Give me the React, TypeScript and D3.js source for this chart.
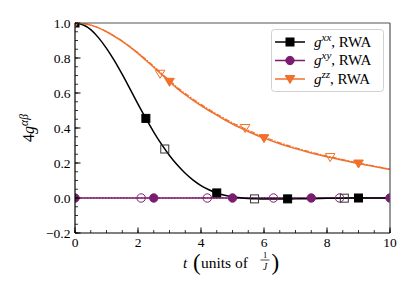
import React from "react";
import * as d3 from "d3";

// ---------- data ----------
const tGrid = [0, 0.25, 0.5, 0.75, 1, 1.25, 1.5, 1.75, 2, 2.25, 2.5, 2.75, 3, 3.25, 3.5, 3.75, 4, 4.25, 4.5, 4.75, 5, 5.25, 5.5, 5.75, 6, 6.5, 7, 7.5, 8, 8.5, 9, 9.5, 10];
const gxx = [1.0, 0.99, 0.962, 0.915, 0.855, 0.785, 0.706, 0.622, 0.537, 0.455, 0.377, 0.306, 0.243, 0.188, 0.141, 0.102, 0.071, 0.047, 0.029, 0.016, 0.007, 0.001, -0.003, -0.005, -0.006, -0.006, -0.005, -0.004, -0.002, -0.001, 0.0, 0.0, 0.0];
const gzz = [1.0, 0.997, 0.988, 0.972, 0.95, 0.924, 0.895, 0.862, 0.826, 0.787, 0.747, 0.706, 0.664, 0.625, 0.59, 0.558, 0.528, 0.5, 0.473, 0.447, 0.423, 0.401, 0.38, 0.36, 0.342, 0.31, 0.282, 0.257, 0.236, 0.216, 0.197, 0.18, 0.163];
const gzzExact = [1.0, 0.997, 0.988, 0.972, 0.951, 0.926, 0.897, 0.865, 0.83, 0.792, 0.752, 0.712, 0.671, 0.632, 0.597, 0.565, 0.535, 0.507, 0.48, 0.454, 0.43, 0.408, 0.387, 0.367, 0.349, 0.316, 0.287, 0.262, 0.24, 0.22, 0.2, 0.182, 0.165];
const gxy = [0, 0, 0, 0, 0, 0, 0, 0, 0, 0, 0, 0, 0, 0, 0, 0, 0, 0, 0, 0, 0, 0, 0, 0, 0, 0, 0, 0, 0, 0, 0, 0, 0];
const gxyExact = [0, 0, 0.001, 0.001, 0.001, 0.001, 0.001, 0, 0, 0, -0.001, -0.001, -0.001, 0, 0, 0.001, 0.001, 0, 0, 0, -0.001, -0.001, 0, 0, 0.001, 0, 0, -0.001, 0, 0.001, 0, 0, 0];

// filled markers (RWA)
const sqFilledT = [0, 2.25, 4.5, 6.75, 9.0];
const sqFilledY = [1.0, 0.455, 0.029, -0.005, 0.0];
const circFilledT = [0, 2.5, 5.0, 7.5, 10.0];
const circFilledY = [0, 0, 0, 0, 0];
const triFilledT = [0, 3.0, 6.0, 9.0];
const triFilledY = [1.0, 0.664, 0.342, 0.197];
// open markers
const sqOpenT = [2.85, 5.7, 8.55];
const sqOpenY = [0.28, -0.005, -0.001];
const circOpenT = [2.1, 4.2, 6.3, 8.4];
const circOpenY = [0, 0, 0, 0];
const triOpenT = [2.7, 5.4, 8.1];
const triOpenY = [0.71, 0.4, 0.234];

const xTicks = [0, 2, 4, 6, 8, 10];
const yTicks = [-0.2, 0, 0.2, 0.4, 0.6, 0.8, 1.0];
const xMinor = d3.range(0, 10.001, 0.5);
const yMinor = d3.range(-0.2, 1.0001, 0.05);

const legendLabels = ["xx", "xy", "zz"];

// ---------- style ----------
const BLACK = "#000000";
const PURPLE = "#7b1d6f";
const ORANGE = "#f0702c";
const FONT = "'Liberation Serif', 'DejaVu Serif', serif";

const W = 415, H = 295;
const L = 75, R = 390, T = 23, B = 233;

export default function App() {
  const x = d3.scaleLinear().domain([0, 10]).range([L, R]);
  const y = d3.scaleLinear().domain([-0.2, 1.0]).range([B, T]);
  const line = d3.line<[number, number]>().x(d => x(d[0])).y(d => y(d[1])).curve(d3.curveMonotoneX);
  const path = (vals: number[]) => line(tGrid.map((t, i) => [t, vals[i]] as [number, number])) || "";

  const sq = (cx: number, cy: number, filled: boolean, color: string, key: string) => (
    <rect key={key} x={cx - 4} y={cy - 4} width={8} height={8}
      fill={filled ? color : "none"} stroke={filled ? color : "#333"} strokeWidth={1} />
  );
  const circ = (cx: number, cy: number, filled: boolean, color: string, key: string) => (
    <circle key={key} cx={cx} cy={cy} r={4.2} fill={filled ? color : "none"} stroke={color} strokeWidth={1} />
  );
  const tri = (cx: number, cy: number, filled: boolean, color: string, key: string) => (
    <path key={key} d={`M${cx - 4.8},${cy - 3.5}L${cx + 4.8},${cy - 3.5}L${cx},${cy + 4.5}Z`}
      fill={filled ? color : "none"} stroke={color} strokeWidth={1} />
  );

  const legendRows = [
    { color: BLACK, m: sq },
    { color: PURPLE, m: circ },
    { color: ORANGE, m: tri },
  ];

  return (
    <svg width={W} height={H} style={{ position: "absolute", left: 0, top: 0, background: "#fff" }} fontFamily={FONT}>
      <rect x={0} y={0} width={W} height={H} fill="#fff" />
      <defs>
        <clipPath id="plotclip"><rect x={L} y={T} width={R - L} height={B - T} /></clipPath>
      </defs>
      <g clipPath="url(#plotclip)">
        {/* purple */}
        <path d={path(gxyExact)} fill="none" stroke={PURPLE} strokeWidth={1.2} strokeDasharray="1.5,1.5" />
        <path d={path(gxy)} fill="none" stroke={PURPLE} strokeWidth={1.5} />
        {/* black */}
        <path d={path(gxx)} fill="none" stroke={BLACK} strokeWidth={1.5} />
        {/* orange */}
        <path d={path(gzzExact)} fill="none" stroke={ORANGE} strokeWidth={1.2} strokeDasharray="5,1.5,1.5,1.5" />
        <path d={path(gzz)} fill="none" stroke={ORANGE} strokeWidth={1.5} />
        {/* open markers */}
        {circOpenT.map((t, i) => circ(x(t), y(circOpenY[i]), false, PURPLE, "co" + i))}
        {sqOpenT.map((t, i) => sq(x(t), y(sqOpenY[i]), false, BLACK, "so" + i))}
        {triOpenT.map((t, i) => tri(x(t), y(triOpenY[i]), false, ORANGE, "to" + i))}
        {/* filled markers */}
        {sqFilledT.map((t, i) => sq(x(t), y(sqFilledY[i]), true, BLACK, "sf" + i))}
        {triFilledT.map((t, i) => tri(x(t), y(triFilledY[i]), true, ORANGE, "tf" + i))}
        {circFilledT.map((t, i) => circ(x(t), y(circFilledY[i]), true, PURPLE, "cf" + i))}
      </g>

      {/* spines */}
      <line x1={L} y1={T} x2={R} y2={T} stroke="#555" strokeWidth={1.2} />
      <line x1={R} y1={T} x2={R} y2={B} stroke="#555" strokeWidth={1.2} />
      <line x1={L} y1={T} x2={L} y2={B} stroke="#000" strokeWidth={1.2} />
      <line x1={L} y1={B} x2={R} y2={B} stroke="#000" strokeWidth={1.2} />

      {/* ticks */}
      {xMinor.map((t, i) => <line key={"xm" + i} x1={x(t)} x2={x(t)} y1={B} y2={B - 3} stroke="#000" strokeWidth={0.8} />)}
      {xTicks.map((t, i) => <line key={"xM" + i} x1={x(t)} x2={x(t)} y1={B} y2={B - 5.5} stroke="#000" strokeWidth={1} />)}
      {yMinor.map((v, i) => <line key={"ym" + i} x1={L} x2={L + 3} y1={y(v)} y2={y(v)} stroke="#000" strokeWidth={0.8} />)}
      {yTicks.map((v, i) => <line key={"yM" + i} x1={L} x2={L + 5.5} y1={y(v)} y2={y(v)} stroke="#000" strokeWidth={1} />)}

      {xTicks.map((t, i) => (
        <text key={"xl" + i} x={x(t)} y={B + 14} fontSize={13.5} textAnchor="middle">{d3.format("d")(t)}</text>
      ))}
      {yTicks.map((v, i) => (
        <text key={"yl" + i} x={L - 4.5} y={y(v) + 4.8} fontSize={13.5} textAnchor="end">{v < 0 ? "\u2212" + d3.format(".1f")(-v) : d3.format(".1f")(v)}</text>
      ))}

      {/* y label */}
      <text transform={`translate(${34},${(T + B) / 2}) rotate(-90)`} fontSize={16} textAnchor="middle">
        <tspan>4</tspan><tspan fontStyle="italic">g</tspan>
        <tspan fontStyle="italic" fontSize={11.5} dy={-6.5}>αβ</tspan>
      </text>

      {/* x label */}
      <g fontSize={15}>
        <text x={183} y={267.5} fontStyle="italic">t</text>
        <text x={193} y={270} fontSize={23} fontWeight={300}>(</text>
        <text x={201} y={267.5} fontSize={15.5}>units of</text>
        <text x={265} y={257.5} fontSize={8.5} textAnchor="middle">1</text>
        <line x1={260.5} x2={269.5} y1={260} y2={260} stroke="#000" strokeWidth={0.7} />
        <text x={265} y={269.5} fontSize={9.5} fontStyle="italic" textAnchor="middle">J</text>
        <text x={271.5} y={270} fontSize={23} fontWeight={300}>)</text>
      </g>

      {/* legend */}
      <rect x={271.5} y={29.5} width={112} height={62} rx={3} fill="#fff" fillOpacity={0.85} stroke="#d0d0d0" strokeWidth={1} />
      {legendRows.map((r, i) => {
        const cy = 42 + i * 18.5;
        return (
          <g key={"lg" + i}>
            <line x1={275} x2={305} y1={cy} y2={cy} stroke={r.color} strokeWidth={1.5} />
            {r.m(290, cy, true, r.color, "lm" + i)}
            <text x={314} y={cy + 4.5} fontSize={15}>
              <tspan fontStyle="italic">g</tspan>
              <tspan fontStyle="italic" fontSize={11} dy={-6}>{legendLabels[i]}</tspan>
              <tspan dy={6}>, RWA</tspan>
            </text>
          </g>
        );
      })}
    </svg>
  );
}
